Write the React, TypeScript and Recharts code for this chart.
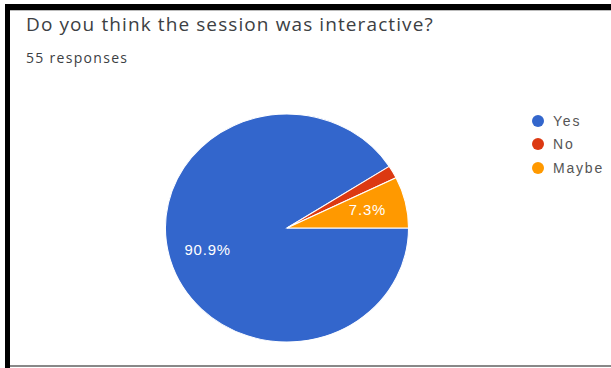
import { PieChart, Pie, Cell, Legend } from "recharts";

const answers = ["Yes", "No", "Maybe"];
const counts = [50, 1, 4];
const colors = ["#3366CC", "#DC3912", "#FF9900"];

const total = counts.reduce((a, b) => a + b, 0);
const data = answers.map((name, i) => ({ name, value: counts[i] }));

const RAD = Math.PI / 180;
const font = "'Open Sans', Arial, sans-serif";

function renderLabel(props: any) {
  const { cx, cy, midAngle, outerRadius, percent } = props;
  if (percent < 0.05) return null;
  const r = outerRadius * 0.68;
  const x = cx + r * Math.cos(-midAngle * RAD);
  const y = cy + r * Math.sin(-midAngle * RAD);
  return (
    <text x={x} y={y} fill="#fff" fontSize={14} letterSpacing={0.8} textAnchor="middle" dominantBaseline="central" fontFamily="Arial, sans-serif">
      {(percent * 100).toFixed(1)}%
    </text>
  );
}

function LegendList() {
  return (
    <div style={{ fontFamily: "Arial, sans-serif", fontSize: 14, letterSpacing: 1.8, color: "#555" }}>
      {answers.map((a, i) => (
        <div key={a} style={{ display: "flex", alignItems: "center", height: 23.5 }}>
          <span style={{ width: 12, height: 12, borderRadius: 6, background: colors[i], marginRight: 9, display: "inline-block" }} />
          {a}
        </div>
      ))}
    </div>
  );
}

export default function App() {
  return (
    <div style={{ position: "absolute", left: 0, top: 0, width: 611, height: 368, background: "#fff", overflow: "hidden" }}>
      <div style={{ position: "absolute", left: 5, top: 4, width: 606, height: 6, background: "#000" }} />
      <div style={{ position: "absolute", left: 5, top: 10, width: 606, height: 1, background: "#bbb" }} />
      <div style={{ position: "absolute", left: 5, top: 4, width: 5, height: 364, background: "#000" }} />
      <div style={{ position: "absolute", left: 10, top: 365, width: 601, height: 2, background: "#888" }} />
      <div style={{ position: "absolute", left: 26, top: 11, fontFamily: font, fontSize: 19, letterSpacing: 1.1, color: "#3c4043" }}>
        Do you think the session was interactive?
      </div>
      <div style={{ position: "absolute", left: 26, top: 48, fontFamily: font, fontSize: 14, letterSpacing: 1.3, color: "#3c4043" }}>
        {total} responses
      </div>
      <div style={{ position: "absolute", left: 0, top: 0, transform: "scaleX(1.066)", transformOrigin: "287px 0" }}>
        <PieChart width={611} height={368} margin={{ top: 0, right: 0, bottom: 0, left: 0 }}>
          <Pie
            data={data}
            dataKey="value"
            nameKey="name"
            cx={287}
            cy={228}
            outerRadius={114}
            startAngle={360}
            endAngle={0}
            stroke="#fff"
            strokeWidth={1}
            labelLine={false}
            label={renderLabel}
            isAnimationActive={false}
          >
            {data.map((d, i) => (
              <Cell key={d.name} fill={colors[i]} />
            ))}
          </Pie>
        </PieChart>
      </div>
      <div style={{ position: "absolute", left: 0, top: 0 }}>
        <PieChart width={611} height={368}>
          <Legend
            layout="vertical"
            verticalAlign="top"
            align="right"
            wrapperStyle={{ left: 532, top: 109, width: 80 }}
            content={() => <LegendList />}
          />
        </PieChart>
      </div>
    </div>
  );
}
